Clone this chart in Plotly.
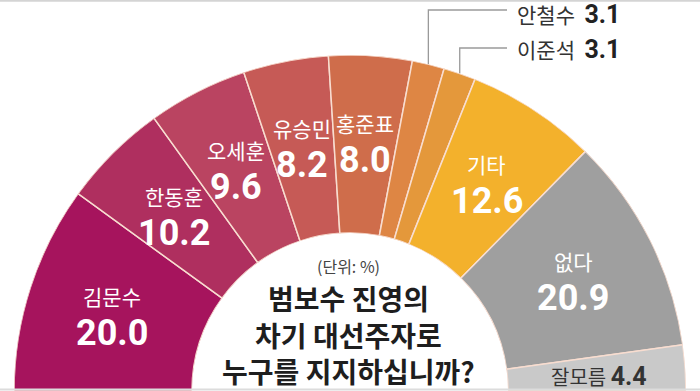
import math
import plotly.graph_objects as go

# ---- data ----
names = ["김문수", "한동훈", "오세훈", "유승민", "홍준표", "안철수", "이준석", "기타", "없다", "잘모름"]
values = [20.0, 10.2, 9.6, 8.2, 8.0, 3.1, 3.1, 12.6, 20.9, 4.4]
colors = ["#A6145D", "#AF2F5F", "#BA4461", "#C65A56", "#CF6D4B",
          "#DE8644", "#E4983B", "#F3B12C", "#9F9F9F", "#C9C9C9"]
label_kind = ["in", "in", "in", "in", "in", "callout", "callout", "in", "in", "dark"]
unit_text = "(단위: %)"
title_lines = ["범보수 진영의", "차기 대선주자로", "누구를 지지하십니까?"]

# ---- geometry (pixels) ----
W, H = 700, 391
CX, CY = 350, 391
R = 336
HOLE = 158
KR = "Noto Sans CJK KR"
NUM = "Roboto"

total = sum(values)
scale = 180.0 / total
mids, widths = [], []
cum = 0.0
for v in values:
    widths.append(v * scale)
    mids.append((cum + v / 2) * scale)
    cum += v


def cart(theta_deg, r):
    phi = math.radians(180 - theta_deg)
    return r * math.cos(phi), r * math.sin(phi)


def px_to_xy(px, py):
    return (px - CX) / R, (CY - py) / R


fig = go.Figure()

fig.add_trace(go.Barpolar(
    r=[1] * len(values), theta=mids, width=widths,
    marker=dict(color=colors, line=dict(color="#F8DDD0", width=1.5)),
    hoverinfo="skip", showlegend=False,
))

# callout leader lines (cartesian overlay, same scale as polar)
lx, ly = [], []
callout_rows = {5: 14, 6: 49}
line_rows = {5: 10, 6: 48}
x_end = px_to_xy(507, 0)[0]
for i, k in enumerate(label_kind):
    if k == "callout":
        x0, y0 = cart(mids[i], 1.0)
        yl = px_to_xy(0, line_rows[i])[1]
        lx += [x0, x0, x_end, None]
        ly += [y0, yl, yl, None]
fig.add_trace(go.Scatter(x=lx, y=ly, mode="lines",
                         line=dict(color="#9A9A9A", width=1.3),
                         hoverinfo="skip", showlegend=False))

annotations = []
RL = 250 / R
for i, (n, v, k) in enumerate(zip(names, values, label_kind)):
    if k == "in":
        x, y = cart(mids[i], RL)
        annotations.append(dict(x=x, y=y, xref="x", yref="y", text=n, showarrow=False,
                                yshift=18, font=dict(family=KR, size=21, color="white")))
        annotations.append(dict(x=x, y=y, xref="x", yref="y", text=f"<b>{v:.1f}</b>",
                                showarrow=False, yshift=-19,
                                font=dict(family=NUM, size=36, color="white")))
    elif k == "dark":
        x, y = cart(mids[i], RL)
        annotations.append(dict(
            x=x, y=y, xref="x", yref="y", showarrow=False, yshift=-3,
            text=f"{n} <span style='font-family:{NUM};font-size:25px'><b>{v:.1f}</b></span>",
            font=dict(family=KR, size=20, color="#333333")))
    elif k == "callout":
        x, y = px_to_xy(515, callout_rows[i])
        annotations.append(dict(
            x=x, y=y, xref="x", yref="y", showarrow=False, xanchor="left",
            text=f"{n}  <span style='font-family:{NUM};font-size:25px;color:#222'><b>{v:.1f}</b></span>",
            font=dict(family=KR, size=21, color="#333333")))

ux, uy = px_to_xy(348, 266)
annotations.append(dict(x=ux, y=uy, xref="x", yref="y", text=unit_text, showarrow=False,
                        font=dict(family=KR, size=16, color="#444444")))
for j, (line, py) in enumerate(zip(title_lines, [298, 335, 371])):
    tx, ty = px_to_xy(348, py)
    annotations.append(dict(x=tx, y=ty, xref="x", yref="y", text=f"<b>{line}</b>",
                            showarrow=False,
                            font=dict(family=KR, size=28, color="#1E1E1E")))

fig.update_layout(
    width=W, height=H,
    margin=dict(l=0, r=0, t=0, b=0),
    paper_bgcolor="white", plot_bgcolor="rgba(0,0,0,0)",
    polar=dict(
        domain=dict(x=[(CX - R) / W, (CX + R) / W], y=[0, R / H]),
        sector=[0, 180], hole=HOLE / R, bgcolor="rgba(0,0,0,0)", bargap=0,
        radialaxis=dict(visible=False, range=[0, 1]),
        angularaxis=dict(visible=False, direction="clockwise", rotation=180,
                         thetaunit="degrees"),
    ),
    xaxis=dict(visible=False, range=[-CX / R, (W - CX) / R], domain=[0, 1], fixedrange=True),
    yaxis=dict(visible=False, range=[(CY - H) / R, CY / R], domain=[0, 1], fixedrange=True),
    annotations=annotations,
    shapes=[
        dict(type="line", xref="paper", yref="paper", x0=0, x1=1, y0=0.998, y1=0.998,
             line=dict(color="#D4D4D4", width=2), layer="above"),
        dict(type="line", xref="paper", yref="paper", x0=0, x1=1, y0=0.004, y1=0.004,
             line=dict(color="#DCDCDC", width=2), layer="above"),
    ],
    showlegend=False,
)

fig.write_html(
    "out.html",
    config={"displayModeBar": False, "staticPlot": True},
    post_script="document.body.style.margin='0';document.body.style.overflow='hidden';",
)
